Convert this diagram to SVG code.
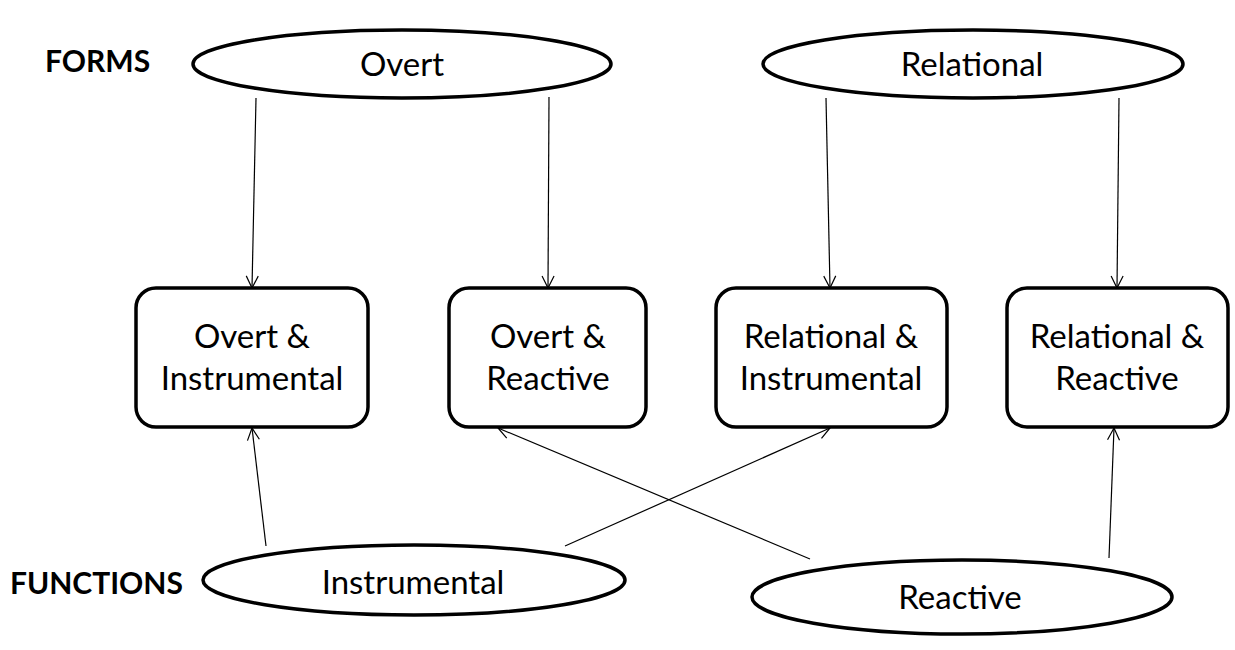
<svg xmlns="http://www.w3.org/2000/svg" width="1235" height="650" viewBox="0 0 1235 650">
<defs>
<style>
.node{fill:#fff;stroke:#000;stroke-width:3.5}
.t{font-family:Lato,"Open Sans",sans-serif;font-size:33px;fill:#000;text-anchor:middle}
.lbl{font-family:Lato,"Open Sans",sans-serif;font-size:30px;font-weight:bold;fill:#000}
.edge{stroke:#000;stroke-width:1.2;fill:none;marker-end:url(#ah)}
</style>
<marker id="ah" viewBox="0 0 14 14" refX="13" refY="7" markerWidth="14" markerHeight="14" markerUnits="userSpaceOnUse" orient="auto">
<path d="M1,1 L13,7 L1,13" fill="none" stroke="#000" stroke-width="1.2"/>
</marker>
</defs>
<rect width="1235" height="650" fill="#fff"/>
<text class="lbl" x="45" y="72">FORMS</text>
<text class="lbl" x="10" y="594">FUNCTIONS</text>
<g id="connectors">
<line class="edge" x1="256" y1="98" x2="252" y2="288"/>
<line class="edge" x1="549" y1="97" x2="548" y2="288"/>
<line class="edge" x1="826" y1="98" x2="830" y2="288"/>
<line class="edge" x1="1119" y1="98" x2="1117" y2="288"/>
<line class="edge" x1="266" y1="546" x2="252" y2="428"/>
<line class="edge" x1="565" y1="546" x2="830" y2="428"/>
<line class="edge" x1="810" y1="559" x2="498" y2="428"/>
<line class="edge" x1="1109" y1="558" x2="1114" y2="428"/>
</g>
<g id="overt"><ellipse class="node" cx="402" cy="64" rx="209" ry="34"/><text class="t" x="402" y="76">Overt</text></g>
<g id="relational"><ellipse class="node" cx="973" cy="64" rx="210" ry="34"/><text class="t" x="972" y="76">Relational</text></g>
<g id="instrumental"><ellipse class="node" cx="414" cy="580" rx="211" ry="35"/><text class="t" x="413" y="594">Instrumental</text></g>
<g id="reactive"><ellipse class="node" cx="962" cy="597" rx="210" ry="37"/><text class="t" x="960" y="609">Reactive</text></g>
<g id="overt-instrumental"><rect class="node" x="136" y="288" width="232" height="139" rx="20"/><text class="t" x="252" y="348">Overt &amp;</text><text class="t" x="252" y="390">Instrumental</text></g>
<g id="overt-reactive"><rect class="node" x="449" y="288" width="197" height="139" rx="20"/><text class="t" x="548" y="348">Overt &amp;</text><text class="t" x="548" y="390">Reactive</text></g>
<g id="relational-instrumental"><rect class="node" x="716" y="288" width="231" height="139" rx="20"/><text class="t" x="831" y="348">Relational &amp;</text><text class="t" x="831" y="390">Instrumental</text></g>
<g id="relational-reactive"><rect class="node" x="1007" y="288" width="221" height="139" rx="20"/><text class="t" x="1117" y="348">Relational &amp;</text><text class="t" x="1117" y="390">Reactive</text></g>
</svg>
